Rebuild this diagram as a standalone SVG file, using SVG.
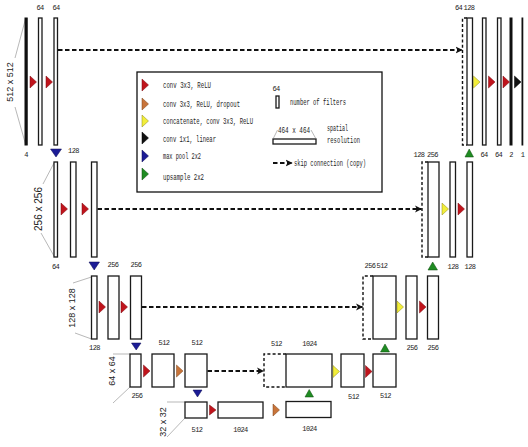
<svg xmlns="http://www.w3.org/2000/svg" width="528" height="447" viewBox="0 0 528 447">
<style>
.bar{fill:#fff;stroke:#1a1a1a;stroke-width:1.3}
.blk{fill:#111;stroke:#111;stroke-width:1}
.cc{fill:none;stroke:#111;stroke-width:1.4;stroke-dasharray:3 2.2}
.skip{fill:none;stroke:#111;stroke-width:1.8;stroke-dasharray:4.5 2.5}
.lead{fill:none;stroke:#999;stroke-width:0.7}
.num{font-family:"Liberation Mono",monospace;font-size:7px;letter-spacing:-0.6px;fill:#222;text-anchor:middle}
.dim{font-family:"Liberation Sans",Arial,sans-serif;font-size:9px;fill:#222;text-anchor:middle}
.leg{font-family:"Liberation Mono",monospace;font-size:8.5px;fill:#222}
.r{fill:#c0141c;stroke:#7a0a10;stroke-width:0.5}
.o{fill:#c8743a;stroke:#7a4218;stroke-width:0.5}
.y{fill:#f2ee3a;stroke:#8a861a;stroke-width:0.5}
.k{fill:#111;stroke:#000;stroke-width:0.5}
.b{fill:#1c1c96;stroke:#0a0a50;stroke-width:0.5}
.g{fill:#1f8c22;stroke:#0c4a0e;stroke-width:0.5}
</style>
<defs>
<marker id="ah" viewBox="0 0 10 10" refX="9" refY="5" markerWidth="4" markerHeight="4" orient="auto" markerUnits="strokeWidth">
<path d="M0,0 L10,5 L0,10 L2.5,5 z" fill="#111"/>
</marker>
</defs>

<!-- connectors -->
<g id="connectors">
<line class="skip" x1="58" y1="50" x2="462" y2="50" marker-end="url(#ah)"/>
<line class="skip" x1="97.5" y1="209" x2="421.5" y2="209" marker-end="url(#ah)"/>
<line class="skip" x1="142" y1="307" x2="362.5" y2="307" marker-end="url(#ah)"/>
<line class="skip" x1="207.5" y1="371" x2="263.5" y2="371" marker-end="url(#ah)"/>
</g>

<!-- dimension labels -->
<g id="dims">
<line class="lead" x1="25.5" y1="19" x2="15" y2="58"/>
<line class="lead" x1="15" y1="107" x2="25.5" y2="144"/>
<text class="dim" transform="translate(13,82) rotate(-90)">512 x 512</text>
<line class="lead" x1="54" y1="163" x2="43" y2="184"/>
<line class="lead" x1="41" y1="233" x2="54" y2="256"/>
<text class="dim" style="font-size:10px" transform="translate(42,209) rotate(-90)">256 x 256</text>
<line class="lead" x1="91.5" y1="277" x2="73" y2="283"/>
<line class="lead" x1="75" y1="333" x2="91.5" y2="339"/>
<text class="dim" transform="translate(75,308) rotate(-90)">128 x 128</text>
<line class="lead" x1="113" y1="354" x2="130" y2="354"/>
<line class="lead" x1="113" y1="403" x2="130" y2="387"/>
<text class="dim" transform="translate(115,371) rotate(-90)">64 x 64</text>
<line class="lead" x1="167" y1="402" x2="185" y2="402"/>
<line class="lead" x1="167" y1="437" x2="185" y2="418"/>
<text class="dim" transform="translate(166,422) rotate(-90)">32 x 32</text>
</g>

<!-- level 1 encoder -->
<g id="e1a"><rect class="blk" x="25" y="18" width="2.2" height="127"/><text class="num" x="26" y="157">4</text></g>
<g id="e1b"><rect class="bar" x="38.5" y="18" width="3.5" height="127"/><text class="num" x="40" y="10">64</text></g>
<g id="e1c"><rect class="bar" x="54" y="18" width="3.5" height="127"/><text class="num" x="56" y="10">64</text></g>
<polygon class="r" points="30,76 36.5,82 30,88"/>
<polygon class="r" points="46,76 52.5,82 46,88"/>
<polygon class="b" points="50.5,149 61.5,149 56,157"/>

<!-- level 1 decoder -->
<g id="d1cat"><path class="cc" d="M467,18 H462.5 V145 H467"/><rect class="bar" x="467" y="18" width="5.5" height="127"/><text class="num" x="458.5" y="10">64</text><text class="num" x="469" y="10">128</text></g>
<g id="d1b"><rect class="bar" x="482.5" y="18" width="3.5" height="127"/><text class="num" x="484" y="157">64</text></g>
<g id="d1c"><rect class="bar" x="497.5" y="18" width="3.5" height="127"/><text class="num" x="498.5" y="157">64</text></g>
<g id="d1d"><rect class="blk" x="510" y="18" width="2" height="127"/><text class="num" x="511" y="157">2</text></g>
<g id="d1e"><rect class="blk" x="522" y="18" width="0.8" height="127"/><text class="num" x="522.5" y="157">1</text></g>
<polygon class="y" points="473.5,76 480,82 473.5,88"/>
<polygon class="r" points="488.5,76 495,82 488.5,88"/>
<polygon class="r" points="503,76 509.5,82 503,88"/>
<polygon class="k" points="514.5,76 521,82 514.5,88"/>
<polygon class="g" points="465,157 473.5,157 469.2,149"/>

<!-- level 2 encoder -->
<g id="e2a"><rect class="bar" x="54" y="162" width="3.5" height="95"/><text class="num" x="55.5" y="269">64</text></g>
<g id="e2b"><rect class="bar" x="70.5" y="162" width="5.5" height="95"/><text class="num" x="73.5" y="153">128</text></g>
<g id="e2c"><rect class="bar" x="91.5" y="162" width="5.5" height="95"/></g>
<polygon class="r" points="61,203 67.5,209 61,215"/>
<polygon class="r" points="82,203 88.5,209 82,215"/>
<polygon class="b" points="89,262 99.5,262 94.2,270"/>

<!-- level 2 decoder -->
<g id="d2cat"><path class="cc" d="M428,162 H422 V257 H428"/><rect class="bar" x="428" y="162" width="11" height="95"/><text class="num" x="419" y="157">128</text><text class="num" x="432.5" y="157">256</text></g>
<g id="d2b"><rect class="bar" x="450" y="162" width="5.5" height="95"/><text class="num" x="453" y="269">128</text></g>
<g id="d2c"><rect class="bar" x="467" y="162" width="5.5" height="95"/><text class="num" x="470" y="269">128</text></g>
<polygon class="y" points="442,203 448.5,209 442,215"/>
<polygon class="r" points="458,203 464.5,209 458,215"/>
<polygon class="g" points="428,270 437.5,270 432.7,262"/>

<!-- level 3 encoder -->
<g id="e3a"><rect class="bar" x="91.5" y="276" width="5.5" height="63"/><text class="num" x="94.5" y="350">128</text></g>
<g id="e3b"><rect class="bar" x="108" y="276" width="11" height="63"/><text class="num" x="113" y="267">256</text></g>
<g id="e3c"><rect class="bar" x="130.5" y="276" width="11" height="63"/><text class="num" x="136" y="267">256</text></g>
<polygon class="r" points="99,301 105.5,307 99,313"/>
<polygon class="r" points="121,301 127.5,307 121,313"/>
<polygon class="b" points="131.5,343 141,343 136.2,350"/>

<!-- level 3 decoder -->
<g id="d3cat"><path class="cc" d="M373,276 H363 V339 H373"/><rect class="bar" x="373" y="276" width="23" height="63"/><text class="num" x="370" y="268">256</text><text class="num" x="382" y="268">512</text></g>
<g id="d3b"><rect class="bar" x="406" y="276" width="11" height="63"/><text class="num" x="412" y="350">256</text></g>
<g id="d3c"><rect class="bar" x="427.5" y="276" width="11" height="63"/><text class="num" x="433" y="350">256</text></g>
<polygon class="y" points="397,301 403.5,307 397,313"/>
<polygon class="r" points="419.5,301 426,307 419.5,313"/>
<polygon class="g" points="380.5,352 389.5,352 385,344"/>

<!-- level 4 encoder -->
<g id="e4a"><rect class="bar" x="130" y="354" width="11" height="33"/><text class="num" x="137" y="398">256</text></g>
<g id="e4b"><rect class="bar" x="152" y="354" width="22" height="33"/><text class="num" x="164" y="345">512</text></g>
<g id="e4c"><rect class="bar" x="185" y="354" width="22" height="33"/><text class="num" x="197" y="345">512</text></g>
<polygon class="r" points="143.5,365 150,371 143.5,377"/>
<polygon class="o" points="176.5,365 183,371 176.5,377"/>
<polygon class="b" points="193,390 202,390 197.5,397"/>

<!-- level 4 decoder -->
<g id="d4cat"><path class="cc" d="M286,354 H264 V387 H286"/><rect class="bar" x="286" y="354" width="46" height="33"/><text class="num" x="276.5" y="346">512</text><text class="num" x="309.5" y="346">1024</text></g>
<g id="d4b"><rect class="bar" x="341" y="354" width="23" height="33"/><text class="num" x="353.5" y="399">512</text></g>
<g id="d4c"><rect class="bar" x="373" y="354" width="23" height="33"/><text class="num" x="385.5" y="398">512</text></g>
<polygon class="y" points="333,365.5 339.5,371.5 333,377.5"/>
<polygon class="r" points="365.5,365.5 372,371.5 365.5,377.5"/>
<polygon class="g" points="305,397 313.5,397 309.2,389.5"/>

<!-- level 5 -->
<g id="e5a"><rect class="bar" x="185" y="402" width="22" height="16"/><text class="num" x="197" y="432">512</text></g>
<g id="e5b"><rect class="bar" x="218" y="402" width="45" height="16"/><text class="num" x="240.5" y="432">1024</text></g>
<g id="e5c"><rect class="bar" x="286" y="401.5" width="45" height="16"/><text class="num" x="309.5" y="431">1024</text></g>
<polygon class="r" points="209.5,405 216,410 209.5,415"/>
<polygon class="o" points="273,404 279.5,410 273,416"/>

<!-- legend -->
<g id="legend">
<rect x="137" y="72" width="245" height="120" fill="#fff" stroke="#111" stroke-width="1.3"/>
<polygon class="r" points="142,79 148.5,85 142,91"/>
<polygon class="o" points="142,98 148.5,104 142,110"/>
<polygon class="y" points="142,115 148.5,121 142,127"/>
<polygon class="k" points="142,132 148.5,138 142,144"/>
<polygon class="b" points="142,150 148.5,156 142,162"/>
<polygon class="g" points="142,168 148.5,174 142,180"/>
<text class="leg" x="163" y="88" textLength="48" lengthAdjust="spacingAndGlyphs">conv 3x3, ReLU</text>
<text class="leg" x="163" y="107" textLength="77" lengthAdjust="spacingAndGlyphs">conv 3x3, ReLU, dropout</text>
<text class="leg" x="163" y="124" textLength="90" lengthAdjust="spacingAndGlyphs">concatenate, conv 3x3, ReLU</text>
<text class="leg" x="163" y="142" textLength="53" lengthAdjust="spacingAndGlyphs">conv 1x1, linear</text>
<text class="leg" x="163" y="159" textLength="38" lengthAdjust="spacingAndGlyphs">max pool 2x2</text>
<text class="leg" x="163" y="180" textLength="41" lengthAdjust="spacingAndGlyphs">upsample 2x2</text>
<text class="num" x="276" y="91">64</text>
<rect class="bar" x="276" y="96" width="3" height="12"/>
<text class="leg" x="290" y="105" textLength="56" lengthAdjust="spacingAndGlyphs">number of filters</text>
<line class="lead" x1="273.5" y1="138" x2="277.5" y2="130" stroke="#555"/>
<line class="lead" x1="315.5" y1="138" x2="311" y2="130" stroke="#555"/>
<text class="leg" x="278" y="133" textLength="32" lengthAdjust="spacingAndGlyphs">464 x 464</text>
<rect class="bar" x="273" y="139" width="43" height="5"/>
<text class="leg" x="327" y="131" textLength="21" lengthAdjust="spacingAndGlyphs">spatial</text>
<text class="leg" x="327" y="143" textLength="33" lengthAdjust="spacingAndGlyphs">resolution</text>
<line class="skip" x1="273" y1="163" x2="292" y2="163" marker-end="url(#ah)" stroke-dasharray="4 3"/>
<text class="leg" x="294" y="166" textLength="72" lengthAdjust="spacingAndGlyphs">skip connection (copy)</text>
</g>
</svg>
